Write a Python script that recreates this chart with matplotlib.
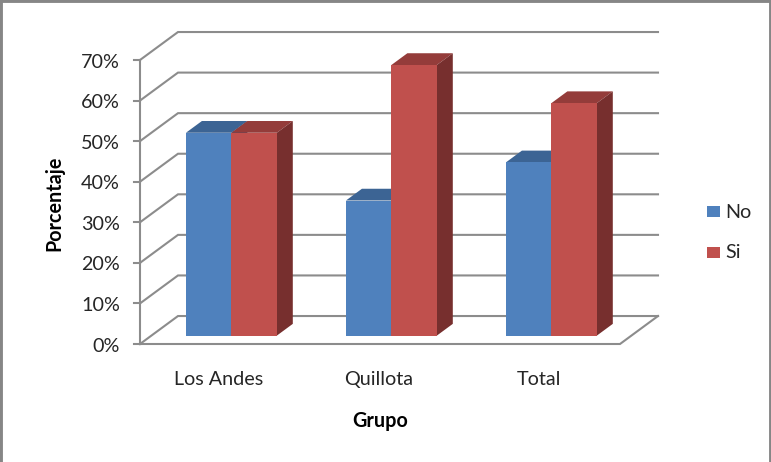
import matplotlib
matplotlib.use('Agg')
import matplotlib.pyplot as plt
from matplotlib.lines import Line2D
from matplotlib.patches import Polygon, Rectangle

grupos = ['Los Andes', 'Quillota', 'Total']
series = ['No', 'Si']
no_vals = [50, 33.3, 42.7]
si_vals = [50, 66.7, 57.3]
yticks = [0, 10, 20, 30, 40, 50, 60, 70]

FRENTE = {'No': '#4f81bd', 'Si': '#c0504d'}
TECHO = {'No': '#3c6494', 'Si': '#943c3a'}
LADO = {'No': '#30507a', 'Si': '#772f2e'}
GRIS = '#8c8c8c'
TEXTO = '#262626'

W, H = 771, 462
# oblique offset of the back wall, in data units
PROF_X = 38 / 160
PROF_Y = 28 / 40.6 * 10
ANCHO = 0.284
BASE = 0.3
FONDO = 0.42
FS = 14.2

plt.rcParams['font.family'] = ['Lato', 'DejaVu Sans']
fig = plt.figure(figsize=(W / 100, H / 100), dpi=100)
ax = fig.add_axes([140 / W, 1 - 344 / H, 480 / W, 284 / H])
ax.set_xlim(0, 3)
ax.set_ylim(0, 70)
ax.axis('off')


def proy(x, y, d):
    return (x + d * PROF_X, y + d * PROF_Y)


# walls and floor
for v in yticks:
    ax.plot(*zip(proy(0, v, 0), proy(0, v, 1), proy(3, v, 1)), color=GRIS,
            lw=1.5, clip_on=False, zorder=1, solid_joinstyle='miter')
    ax.plot([-0.04, 0], [v, v], color=GRIS, lw=1.5, clip_on=False, zorder=1)
    ax.text(-0.125, v - 0.5, '%d%%' % v, ha='right', va='center', fontsize=FS,
            color=TEXTO, clip_on=False)
ax.plot([0, 0], [0, 70], color=GRIS, lw=1.5, clip_on=False, zorder=1)
ax.plot(*zip(proy(0, 0, 0), proy(3, 0, 0), proy(3, 0, 1)), color=GRIS,
        lw=1.5, clip_on=False, zorder=1, solid_joinstyle='miter')


def barra(x0, val, nombre, z):
    x1 = x0 + ANCHO
    pts_frente = [proy(x0, 0, BASE), proy(x1, 0, BASE), proy(x1, val, BASE), proy(x0, val, BASE)]
    pts_techo = [proy(x0, val, BASE), proy(x1, val, BASE),
                 proy(x1, val, BASE + FONDO), proy(x0, val, BASE + FONDO)]
    pts_lado = [proy(x1, 0, BASE), proy(x1, val, BASE),
                proy(x1, val, BASE + FONDO), proy(x1, 0, BASE + FONDO)]
    ax.add_patch(Polygon(pts_techo, color=TECHO[nombre], lw=0, clip_on=False, zorder=z))
    ax.add_patch(Polygon(pts_lado, color=LADO[nombre], lw=0, clip_on=False, zorder=z))
    ax.add_patch(Polygon(pts_frente, color=FRENTE[nombre], lw=0, clip_on=False, zorder=z))


for i, g in enumerate(grupos):
    c = i + 0.5
    barra(c - ANCHO, no_vals[i], 'No', 3)
    barra(c, si_vals[i], 'Si', 3)
    ax.text(c - 0.008, -8.7, g, ha='center', va='center', fontsize=FS, color=TEXTO,
            clip_on=False)

fig.text(54 / W, 1 - 203 / H, 'Porcentaje', rotation=90, ha='center', va='center',
         fontsize=FS, fontweight='bold', color='black')
fig.text(380 / W, 1 - 421 / H, 'Grupo', ha='center', va='center',
         fontsize=FS, fontweight='bold', color='black')

# legend
for nombre, yc in zip(series, [212, 252]):
    fig.patches.append(Rectangle((707 / W, 1 - (yc + 5.5) / H), 13 / W, 11 / H,
                                 transform=fig.transFigure, color=FRENTE[nombre], lw=0))
    fig.text(725 / W, 1 - (yc + 0.5) / H, nombre, ha='left', va='center', fontsize=FS,
             color=TEXTO)

# outer frame, open at the bottom
fig.lines.append(Line2D([0, 0, 1, 1], [0, 1, 1, 0], transform=fig.transFigure,
                        color='#868686', lw=3.5, solid_joinstyle='miter'))

fig.savefig('out.png', dpi=100)
